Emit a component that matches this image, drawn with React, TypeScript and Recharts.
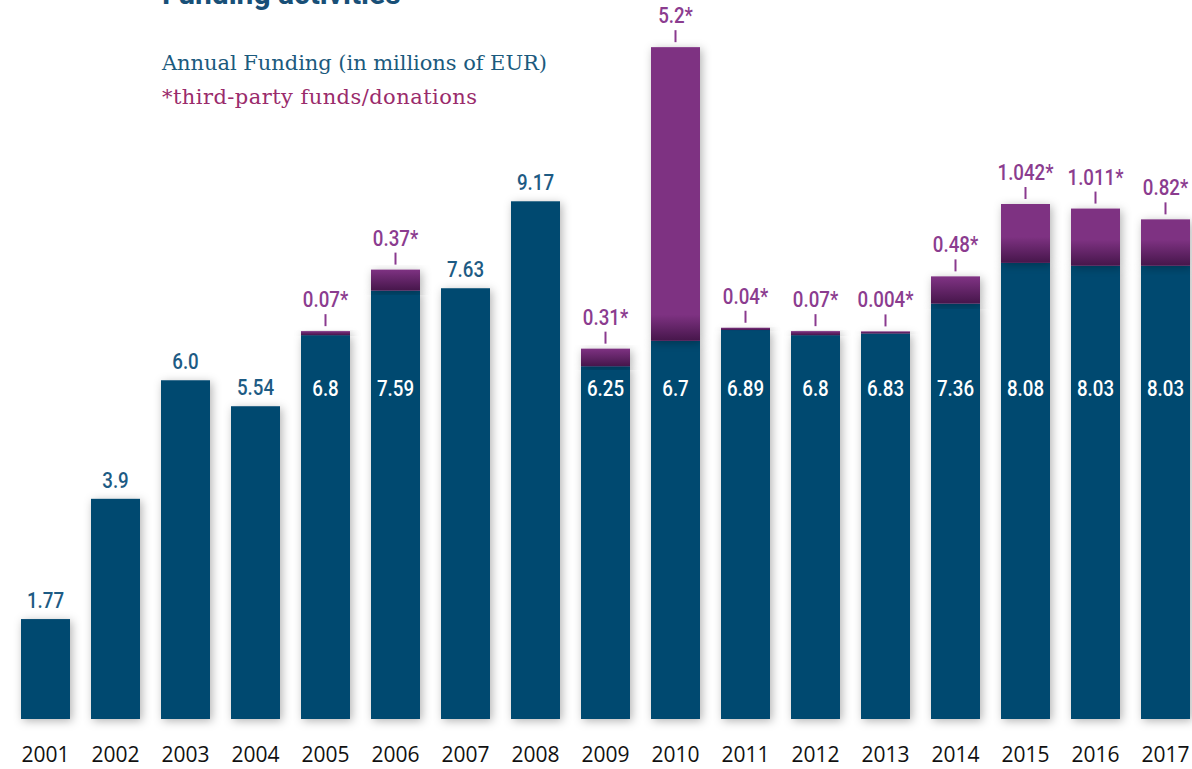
import React from "react";
import { BarChart, Bar, XAxis, YAxis } from "recharts";

const years = ["2001", "2002", "2003", "2004", "2005", "2006", "2007", "2008", "2009", "2010", "2011", "2012", "2013", "2014", "2015", "2016", "2017"];
const baseFunding = [1.77, 3.9, 6.0, 5.54, 6.8, 7.59, 7.63, 9.17, 6.25, 6.7, 6.89, 6.8, 6.83, 7.36, 8.08, 8.03, 8.03];
const baseLabels = ["1.77", "3.9", "6.0", "5.54", "6.8", "7.59", "7.63", "9.17", "6.25", "6.7", "6.89", "6.8", "6.83", "7.36", "8.08", "8.03", "8.03"];
const thirdParty = [0, 0, 0, 0, 0.07, 0.37, 0, 0, 0.31, 5.2, 0.04, 0.07, 0.004, 0.48, 1.042, 1.011, 0.82];
const thirdPartyLabels = ["", "", "", "", "0.07*", "0.37*", "", "", "0.31*", "5.2*", "0.04*", "0.07*", "0.004*", "0.48*", "1.042*", "1.011*", "0.82*"];

const data = years.map((year, i) => ({
  year,
  base: baseFunding[i],
  third: thirdParty[i],
  baseLabel: baseLabels[i],
  thirdLabel: thirdPartyLabels[i],
}));

const BLUE = "#004870";
const PURPLE = "#7e3082";
const INSIDE_LEVEL = 5.72; // value level where the white labels sit

// condensed looking value label (Roboto squeezed horizontally)
const NarrowText = ({ x, y, fill, children }: any) => (
  <text
    transform={`translate(${x},${y}) scale(0.85,1)`}
    textAnchor="middle"
    fill={fill}
    fontSize={22}
    fontWeight={500}
    fontFamily="Roboto, sans-serif"
  >
    {children}
  </text>
);

const BaseShape = (props: any) => {
  const { x, y, width, height, payload } = props;
  const cx = x + width / 2;
  const bottom = y + height;
  let label;
  if (payload.third > 0) {
    const ly = bottom - height * (INSIDE_LEVEL / payload.base);
    label = <NarrowText x={cx} y={ly} fill="#ffffff">{payload.baseLabel}</NarrowText>;
  } else {
    label = <NarrowText x={cx} y={y - 11} fill="#1d5b84">{payload.baseLabel}</NarrowText>;
  }
  return (
    <g>
      <rect x={x} y={y} width={width} height={height} fill={BLUE} filter="url(#barShadow)" />
      {label}
    </g>
  );
};

const ThirdShape = (props: any) => {
  const { x, y, width, height, payload } = props;
  if (!(payload.third > 0)) return <g />;
  const cx = x + width / 2;
  const shadeH = Math.min(height, 26);
  return (
    <g>
      <rect x={x} y={y} width={width} height={height} fill={PURPLE} filter="url(#barShadow)" />
      <rect x={x} y={y + height - shadeH} width={width} height={shadeH} fill="url(#purpleShade)" />
      <line x1={cx} x2={cx} y1={y - 17} y2={y - 5} stroke="#8a3a8f" strokeWidth={2} />
      <NarrowText x={cx} y={y - 24} fill="#8b3c8f">{payload.thirdLabel}</NarrowText>
    </g>
  );
};

const YearTick = (props: any) => {
  const { x, y, payload } = props;
  return (
    <text x={x} y={y + 43} textAnchor="middle" fill="#111111" fontSize={21} fontFamily="'Open Sans', sans-serif">
      {payload.value}
    </text>
  );
};

export default function App() {
  return (
    <div style={{ position: "absolute", left: 0, top: 0, width: 1192, height: 769, overflow: "hidden", background: "#fff" }}>
      <BarChart
        width={1201}
        height={769}
        data={data}
        margin={{ top: 2, right: 0.5, left: 10.5, bottom: 0 }}
        barCategoryGap="15%"
      >
        <defs>
          <filter id="barShadow" x="-50%" y="-20%" width="200%" height="140%">
            <feDropShadow dx="2" dy="2" stdDeviation="5" floodColor="#000000" floodOpacity="0.3" />
          </filter>
          <linearGradient id="purpleShade" x1="0" y1="0" x2="0" y2="1">
            <stop offset="0" stopColor="#2e0a33" stopOpacity="0" />
            <stop offset="1" stopColor="#2e0a33" stopOpacity="0.7" />
          </linearGradient>
        </defs>
        <XAxis
          dataKey="year"
          height={50}
          axisLine={false}
          tickLine={false}
          tickSize={0}
          tickMargin={0}
          interval={0}
          tick={<YearTick />}
        />
        <YAxis hide domain={[0, 12.7]} />
        <Bar dataKey="base" stackId="f" shape={<BaseShape />} isAnimationActive={false} />
        <Bar
          dataKey="third"
          stackId="f"
          shape={<ThirdShape />}
          minPointSize={(_v: any, i: number) => (thirdParty[i] > 0 ? 2 : 0)}
          isAnimationActive={false}
        />
      </BarChart>
      <svg width={1192} height={130} style={{ position: "absolute", left: 0, top: 0, pointerEvents: "none" }}>
        <text x={162} y={4} fill="#184f77" fontSize={30} fontWeight="bold" fontFamily="Roboto, sans-serif">
          Funding activities
        </text>
        <text x={162} y={70} fill="#1b5a7d" fontSize={21} textLength={385} fontFamily="'DejaVu Serif', serif">
          Annual Funding (in millions of EUR)
        </text>
        <text x={162} y={104} fill="#9a2b6b" fontSize={21} textLength={315} fontFamily="'DejaVu Serif', serif">
          *third-party funds/donations
        </text>
      </svg>
    </div>
  );
}
